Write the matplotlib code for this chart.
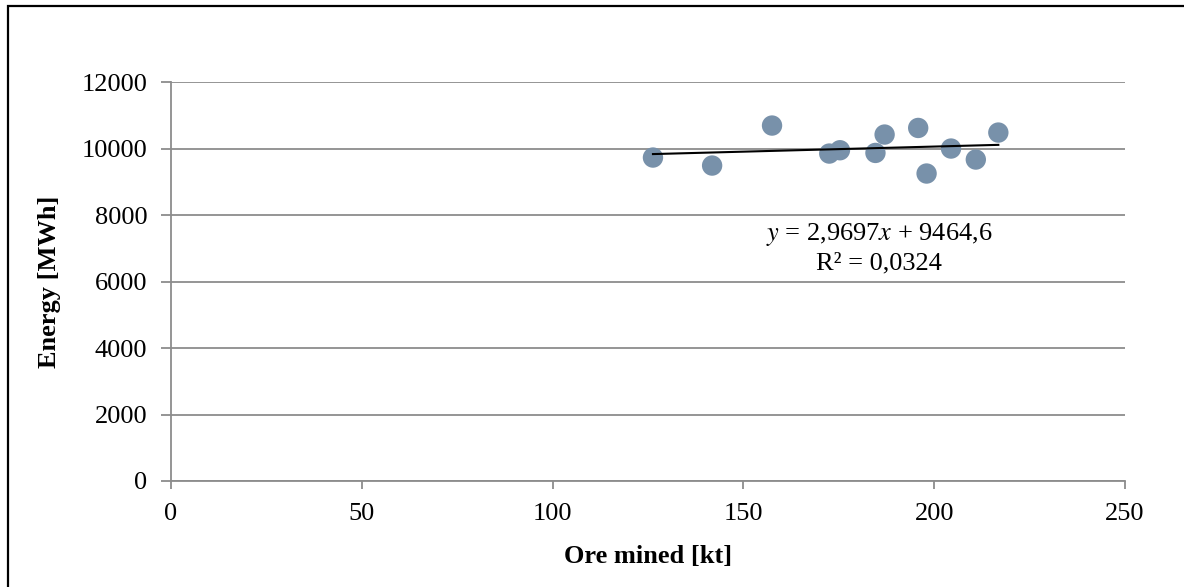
import numpy as np
import matplotlib.pyplot as plt
from matplotlib.patches import Rectangle

plt.rcParams['font.family'] = ['Liberation Serif', 'DejaVu Serif']
plt.rcParams['mathtext.fontset'] = 'stix'

ore_kt = [126.3, 141.8, 157.5, 172.5, 175.3, 184.6, 187.0, 195.8, 198.0, 204.4, 210.9, 216.8]
energy_mwh = [9735, 9494, 10698, 9855, 9955, 9874, 10427, 10626, 9254, 10006, 9675, 10487]

x_ticks = [0, 50, 100, 150, 200, 250]
y_ticks = [0, 2000, 4000, 6000, 8000, 10000, 12000]

fig = plt.figure(figsize=(11.84, 5.87), dpi=100)
ax = fig.add_axes([0.1444, 0.1806, 0.8058, 0.6792])

ax.grid(axis='y', color='#8c8c8c', linewidth=1.3, zorder=0)
ax.set_axisbelow(True)

ax.scatter(ore_kt, energy_mwh, s=215, color='#7891aa', edgecolors='none', zorder=3)

# linear trend line over the data range
k, b = np.polyfit(ore_kt, energy_mwh, 1)
xs = np.array([min(ore_kt), max(ore_kt)])
ax.plot(xs, k * xs + b, color='black', linewidth=1.5, zorder=4)

ax.text(185.6, 7420, r'$\mathit{y}$ = 2,9697$\mathit{x}$ + 9464,6', ha='center', va='center', fontsize=19)
ax.text(185.6, 6540, 'R² = 0,0324', ha='center', va='center', fontsize=19)

ax.set_xlim(0, 250)
ax.set_ylim(0, 12000)
ax.set_xticks(x_ticks)
ax.set_yticks(y_ticks)
ax.tick_params(labelsize=19, color='#8c8c8c', width=1.3)
ax.tick_params(axis='y', length=7, pad=10)
ax.tick_params(axis='x', length=6, pad=10)

for side in ['top', 'right']:
    ax.spines[side].set_visible(False)
for side in ['left', 'bottom']:
    ax.spines[side].set_color('#8c8c8c')
    ax.spines[side].set_linewidth(1.3)

ax.set_xlabel('Ore mined [kt]', fontsize=19, fontweight='bold', labelpad=14)
ax.set_ylabel('Energy [MWh]', fontsize=19, fontweight='bold', labelpad=15)

# outer chart frame, runs off the right and bottom edges
fig.patches.append(Rectangle((8 / 1184, -0.05), 1.1, 1.05 - 6 / 587, transform=fig.transFigure,
                             fill=False, edgecolor='black', linewidth=1.6))

fig.savefig('out.png', dpi=100)
